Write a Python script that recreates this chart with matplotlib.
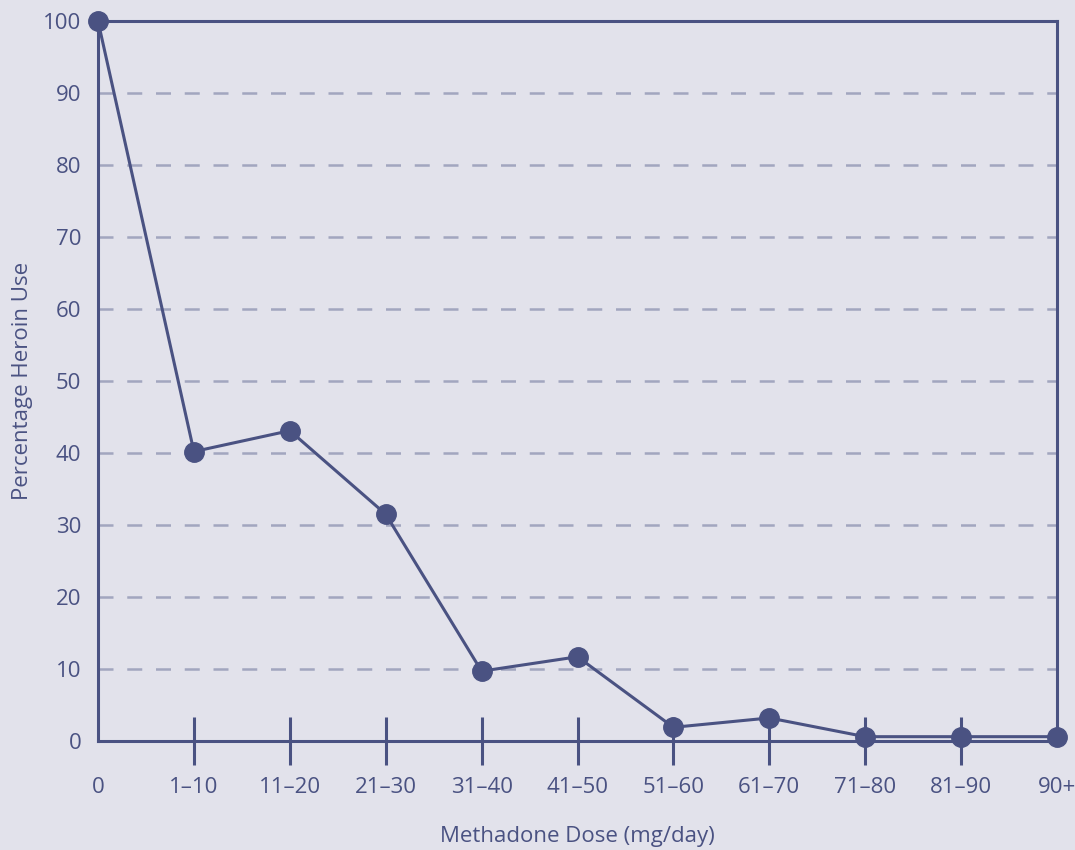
import matplotlib.pyplot as plt
import numpy as np

# dose groups and heroin use (%)
doses = ["0", "1–10", "11–20", "21–30", "31–40", "41–50",
         "51–60", "61–70", "71–80", "81–90", "90+"]
heroin_use = [100, 40.2, 43.1, 31.5, 9.7, 11.7, 1.9, 3.2, 0.6, 0.6, 0.6]
y_ticks = [0, 10, 20, 30, 40, 50, 60, 70, 80, 90, 100]

bg = "#e2e2eb"
ink = "#4a5282"
grid_col = "#a2a6bf"

plt.rcParams["font.family"] = ["Open Sans", "DejaVu Sans"]

fig = plt.figure(figsize=(10.75, 8.5), dpi=100, facecolor=bg)
ax = fig.add_axes([98 / 1075, 1 - 741 / 850, (1057 - 98) / 1075, (741 - 21) / 850])
ax.set_facecolor(bg)

x = np.arange(len(doses))

# dashed grid lines (skip 0 and 100, those are the frame)
for yv in y_ticks[1:-1]:
    ax.axhline(yv, color=grid_col, lw=1.8, dashes=(6, 5.5), zorder=1)

ax.plot(x, heroin_use, color=ink, lw=2.2, marker="o", ms=14,
        clip_on=False, zorder=3)

ax.set_xlim(0, len(doses) - 1)
ax.set_ylim(0, 100)

for side in ["left", "right", "top", "bottom"]:
    ax.spines[side].set_color(ink)
    ax.spines[side].set_linewidth(2.2)

ax.set_xticks(x)
ax.set_xticklabels(doses)
ax.set_yticks(y_ticks)
ax.tick_params(axis="x", direction="inout", length=34, width=2.2, color=ink,
               labelcolor=ink, labelsize=16, pad=9)
ax.tick_params(axis="y", length=0, labelcolor=ink, labelsize=16, pad=12)
# no tick marks at both ends of x axis
ticks = ax.xaxis.get_major_ticks()
for t in (ticks[0], ticks[-1]):
    t.tick1line.set_visible(False)
for t in ticks:
    t.tick2line.set_visible(False)

ax.set_xlabel("Methadone Dose (mg/day)", color=ink, fontsize=16, labelpad=20)
ax.set_ylabel("Percentage Heroin Use", color=ink, fontsize=16, labelpad=7)

fig.savefig("out.png", dpi=100, facecolor=bg)
